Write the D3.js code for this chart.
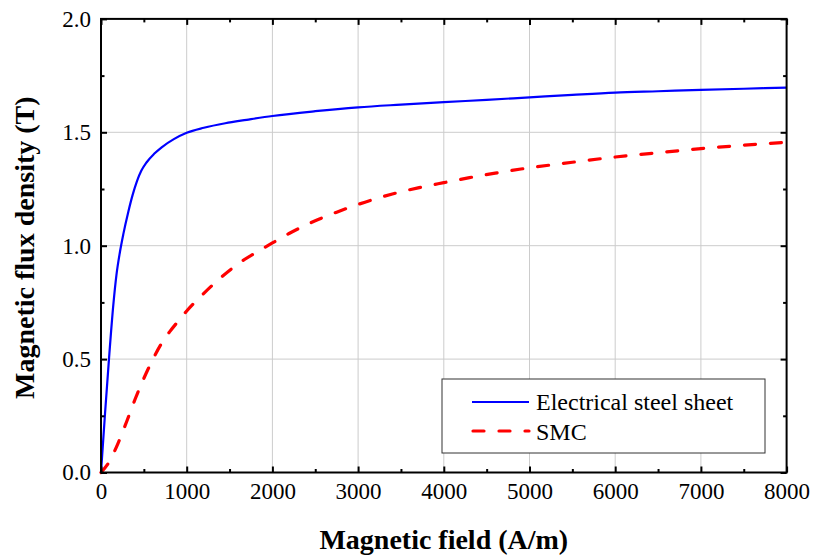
<!DOCTYPE html>
<html>
<head>
<meta charset="utf-8">
<script src="https://cdn.jsdelivr.net/npm/d3@7"></script>
<style>
  html, body { margin: 0; padding: 0; background: #fff; }
  svg { display: block; font-family: "Liberation Serif", "Times New Roman", serif; }
</style>
</head>
<body>
<svg id="chart" width="814" height="560"></svg>
<script>
// B-H magnetisation curves
const steelH = [0, 47, 93, 144, 180, 220, 260, 319, 370, 420, 470, 533, 620, 708, 850, 1000, 1200, 1450, 1700, 2000, 2500, 3000, 3500, 4000, 4500, 5000, 5500, 6000, 6500, 7000, 7500, 8000];
const steelB = [0, 0.26, 0.50, 0.74, 0.87, 0.97, 1.05, 1.15, 1.225, 1.285, 1.33, 1.368, 1.405, 1.434, 1.47, 1.498, 1.52, 1.54, 1.555, 1.572, 1.593, 1.61, 1.622, 1.633, 1.643, 1.654, 1.665, 1.675, 1.681, 1.687, 1.692, 1.697];

const smcH = [0, 100, 200, 300, 400, 500, 600, 700, 800, 900, 1000, 1200, 1400, 1600, 1800, 2000, 2200, 2500, 2750, 3000, 3400, 3700, 4000, 4300, 4600, 4900, 5500, 6000, 6500, 7000, 7500, 8000];
const smcB = [0, 0.05, 0.13, 0.225, 0.325, 0.415, 0.495, 0.565, 0.62, 0.667, 0.712, 0.79, 0.86, 0.92, 0.968, 1.012, 1.055, 1.11, 1.148, 1.182, 1.228, 1.255, 1.278, 1.30, 1.32, 1.338, 1.368, 1.391, 1.41, 1.428, 1.443, 1.456];

const seriesNames = ["Electrical steel sheet", "SMC"];

const xMajor = [0, 1000, 2000, 3000, 4000, 5000, 6000, 7000, 8000];
const xMinor = [500, 1500, 2500, 3500, 4500, 5500, 6500, 7500];
const yMajor = [0, 0.5, 1.0, 1.5, 2.0];
const yMinor = [0.25, 0.75, 1.25, 1.75];

const svg = d3.select("#chart");
const plotL = 101, plotR = 786.6, plotT = 18.9, plotB = 472.5;

const x = d3.scaleLinear().domain([0, 8000]).range([plotL, plotR]);
const y = d3.scaleLinear().domain([0, 2]).range([plotB, plotT]);

// grid
const grid = svg.append("g").attr("stroke", "#cccccc").attr("stroke-width", 1);
grid.selectAll("line.v").data(xMajor.slice(1, -1)).join("line").attr("class", "v")
  .attr("x1", d => x(d)).attr("x2", d => x(d)).attr("y1", plotT).attr("y2", plotB);
grid.selectAll("line.h").data(yMajor.slice(1, -1)).join("line").attr("class", "h")
  .attr("x1", plotL).attr("x2", plotR).attr("y1", d => y(d)).attr("y2", d => y(d));

// curves
const line = d3.line().x(d => x(d[0])).y(d => y(d[1])).curve(d3.curveMonotoneX);
const steel = steelH.map((h, i) => [h, steelB[i]]);
const smc = smcH.map((h, i) => [h, smcB[i]]);

svg.append("path").datum(steel).attr("d", line)
  .attr("fill", "none").attr("stroke", "#0000ff").attr("stroke-width", 2.2);
svg.append("path").datum(smc).attr("d", line)
  .attr("fill", "none").attr("stroke", "#ff0000").attr("stroke-width", 3.2)
  .attr("stroke-dasharray", "11,15").attr("stroke-linecap", "round");

// axes with inward ticks on all four sides
function styleAxis(g) {
  g.select(".domain").remove();
  g.selectAll(".tick line").attr("stroke", "#000").attr("stroke-width", 2);
  g.selectAll(".tick text").attr("fill", "#000").style("font-size", "23px")
    .style("font-family", "'Liberation Serif', 'Times New Roman', serif");
}
const fmtY = d3.format(".1f");

svg.append("g").attr("transform", `translate(0,${plotB})`)
  .call(d3.axisBottom(x).tickValues(xMajor).tickSizeInner(-6).tickSizeOuter(0).tickPadding(10).tickFormat(d3.format("d")))
  .call(styleAxis);
svg.append("g").attr("transform", `translate(0,${plotB})`)
  .call(d3.axisBottom(x).tickValues(xMinor).tickSizeInner(-3.5).tickSizeOuter(0).tickFormat(""))
  .call(styleAxis);
svg.append("g").attr("transform", `translate(0,${plotT})`)
  .call(d3.axisTop(x).tickValues(xMajor).tickSizeInner(-6).tickSizeOuter(0).tickFormat(""))
  .call(styleAxis);
svg.append("g").attr("transform", `translate(0,${plotT})`)
  .call(d3.axisTop(x).tickValues(xMinor).tickSizeInner(-3.5).tickSizeOuter(0).tickFormat(""))
  .call(styleAxis);

svg.append("g").attr("transform", `translate(${plotL},0)`)
  .call(d3.axisLeft(y).tickValues(yMajor).tickSizeInner(-6).tickSizeOuter(0).tickPadding(10).tickFormat(fmtY))
  .call(styleAxis);
svg.append("g").attr("transform", `translate(${plotL},0)`)
  .call(d3.axisLeft(y).tickValues(yMinor).tickSizeInner(-3.5).tickSizeOuter(0).tickFormat(""))
  .call(styleAxis);
svg.append("g").attr("transform", `translate(${plotR},0)`)
  .call(d3.axisRight(y).tickValues(yMajor).tickSizeInner(-6).tickSizeOuter(0).tickFormat(""))
  .call(styleAxis);
svg.append("g").attr("transform", `translate(${plotR},0)`)
  .call(d3.axisRight(y).tickValues(yMinor).tickSizeInner(-3.5).tickSizeOuter(0).tickFormat(""))
  .call(styleAxis);

// frame
svg.append("rect").attr("x", plotL).attr("y", plotT)
  .attr("width", plotR - plotL).attr("height", plotB - plotT)
  .attr("fill", "none").attr("stroke", "#000").attr("stroke-width", 2);

// legend
const lg = svg.append("g");
lg.append("rect").attr("x", 442).attr("y", 379).attr("width", 323).attr("height", 74)
  .attr("fill", "#fff").attr("stroke", "#333").attr("stroke-width", 1);
lg.append("line").attr("x1", 472).attr("x2", 529).attr("y1", 402).attr("y2", 402)
  .attr("stroke", "#0000ff").attr("stroke-width", 2.2);
lg.append("line").attr("x1", 473).attr("x2", 529).attr("y1", 431).attr("y2", 431)
  .attr("stroke", "#ff0000").attr("stroke-width", 3.2)
  .attr("stroke-dasharray", "11,15").attr("stroke-linecap", "round");
lg.selectAll("text").data(seriesNames).join("text")
  .attr("x", 536).attr("y", (d, i) => 409.5 + i * 30)
  .style("font-size", "24px").attr("fill", "#000").text(d => d);

// axis titles
svg.append("text").attr("x", (plotL + plotR) / 2).attr("y", 549)
  .attr("text-anchor", "middle").style("font-size", "28px").style("font-weight", "bold")
  .text("Magnetic field (A/m)");
svg.append("text").attr("transform", `translate(34,${(plotT + plotB) / 2 + 2}) rotate(-90)`)
  .attr("text-anchor", "middle").style("font-size", "28px").style("font-weight", "bold")
  .text("Magnetic flux density (T)");
</script>
</body>
</html>
